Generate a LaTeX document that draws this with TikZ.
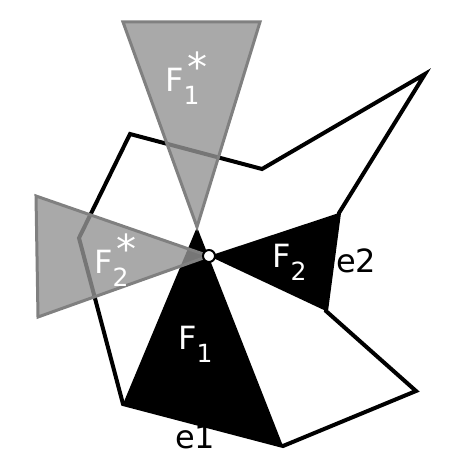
\documentclass[tikz,border=0pt]{standalone}
\usepackage{fontspec}
\setmainfont{DejaVu Sans}
\newcommand{\subsz}{\fontsize{25}{25}\selectfont}
\newcommand{\starsz}{\fontsize{40}{40}\selectfont}
\newcommand{\Fs}[1]{F\raisebox{-13pt}{\subsz #1}}
\newcommand{\Fss}[1]{F\rlap{\kern4pt\raisebox{10pt}{\starsz *}}\raisebox{-13pt}{\subsz #1}}
\begin{document}
\begin{tikzpicture}[x=1pt,y=-1pt,
  poly/.style={line width=4pt, line join=miter, draw=black},
  face/.style={fill=black},
  dual/.style={fill=black!42, fill opacity=0.8, draw=black!50, line width=3pt, line join=miter},
  lab/.style={inner sep=0pt, anchor=base west, font=\fontsize{32}{32}\selectfont},
  wlab/.style={lab, text=white},
  vtx/.style={circle, fill=white, draw=black, line width=2pt, minimum size=12pt, inner sep=0pt}]
\useasboundingbox (0,0) rectangle (469,470);
% vertices
\coordinate (P1) at (130,134);
\coordinate (P2) at (262,169);
\coordinate (P3) at (425,74);
\coordinate (P4) at (339,213);
\coordinate (P5) at (326,311);
\coordinate (P6) at (416,391);
\coordinate (P7) at (283,446);
\coordinate (P8) at (123,404);
\coordinate (P9) at (79,238);
\coordinate (C) at (209,256);
\coordinate (A) at (197,227);
\coordinate (S1) at (123,22);
\coordinate (S2) at (260,22);
\coordinate (T1) at (36,196);
\coordinate (T2) at (38,317);
% faces
\fill[face] (A) -- (P8) -- (P7) -- cycle;
\fill[face] (C) -- (P4) -- (P5) -- cycle;
% polygon
\draw[poly] (P1) -- (P2) -- (P3) -- (P4) -- (P5) -- (P6) -- (P7) -- (P8) -- (P9) -- cycle;
% dual cones
\draw[dual] (S1) -- (S2) -- (A) -- cycle;
\draw[dual] (T1) -- (C) -- (T2) -- cycle;
% vertex
\node[vtx] (v) at (C) {};
% labels
\node[wlab] (f1) at (178,349) {\Fs{1}};
\node[wlab] (f2) at (272,267) {\Fs{2}};
\node[wlab] (f1s) at (165,92) {\Fss{1}};
\node[wlab] (f2s) at (94,273) {\Fss{2}};
\node[lab] (e1) at (175,448) {e1};
\node[lab] (e2) at (336,272) {e2};
\end{tikzpicture}
\end{document}
